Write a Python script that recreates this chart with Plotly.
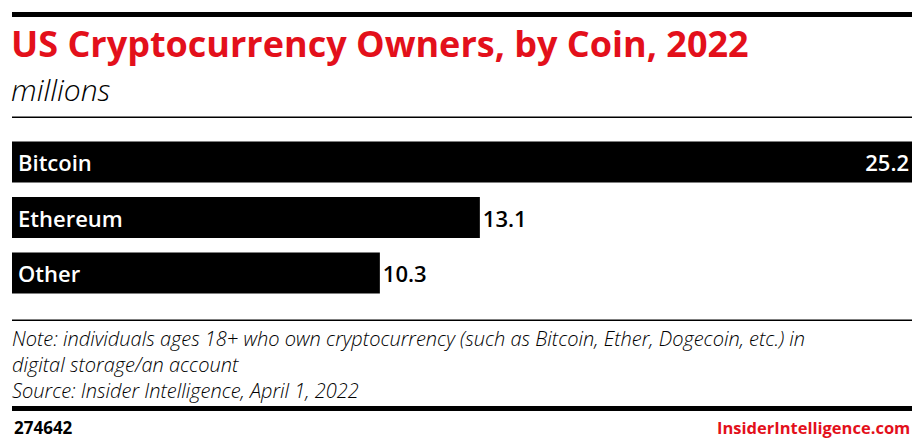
import plotly.graph_objects as go

# Chart data
coins = ["Bitcoin", "Ethereum", "Other"]
owners = [25.2, 13.1, 10.3]
value_labels = ["25.2", "13.1", "10.3"]

title = "US Cryptocurrency Owners, by Coin, 2022"
subtitle = "millions"
note_lines = [
    "Note: individuals ages 18+ who own cryptocurrency (such as Bitcoin, Ether, Dogecoin, etc.) in",
    "digital storage/an account",
    "Source: Insider Intelligence, April 1, 2022",
]
chart_id = "274642"
brand = "InsiderIntelligence.com"

W, H = 922, 447
RED = "#e3101b"
FONT = "Open Sans"


def py(px):
    # pixel from top -> paper y
    return 1 - px / H


def px_(x):
    return x / W


fig = go.Figure()

# label inside for the long bar, outside for the rest
positions = ["inside" if v > 20 else "outside" for v in owners]

fig.add_trace(go.Bar(
    y=coins, x=owners, orientation="h",
    marker=dict(color="black", line=dict(width=0)),
    width=0.74,
    text=value_labels, textposition=positions,
    insidetextanchor="end",
    insidetextfont=dict(color="white", size=22, family=FONT, weight=600),
    outsidetextfont=dict(color="black", size=22, family=FONT, weight=600),
    cliponaxis=False,
    hoverinfo="skip",
))

annotations = []
# category labels inside the bars
for c in coins:
    annotations.append(dict(
        x=0, y=c, xref="x", yref="y", text=c,
        xanchor="left", yanchor="middle", xshift=4, showarrow=False,
        font=dict(color="white", size=22, family=FONT, weight=600)))

annotations += [
    dict(x=px_(9), y=py(43), xref="paper", yref="paper", text="<b>" + title + "</b>",
         xanchor="left", yanchor="middle", showarrow=False,
         font=dict(color=RED, size=36, family=FONT)),
    dict(x=px_(9), y=py(89), xref="paper", yref="paper", text="<i>" + subtitle + "</i>",
         xanchor="left", yanchor="middle", showarrow=False,
         font=dict(color="black", size=30, family=FONT, weight=300)),
    dict(x=px_(10), y=py(323), xref="paper", yref="paper",
         text="<br>".join("<i>" + s + "</i>" for s in note_lines),
         xanchor="left", yanchor="top", align="left", showarrow=False,
         font=dict(color="black", size=20, family=FONT, weight=300)),
    dict(x=px_(12), y=py(427), xref="paper", yref="paper", text="<b>" + chart_id + "</b>",
         xanchor="left", yanchor="middle", showarrow=False,
         font=dict(color="black", size=17, family=FONT)),
    dict(x=px_(912), y=py(427), xref="paper", yref="paper", text="<b>" + brand + "</b>",
         xanchor="right", yanchor="middle", showarrow=False,
         font=dict(color=RED, size=16.5, family=FONT)),
]

shapes = [
    dict(type="rect", xref="paper", yref="paper", x0=px_(12), x1=px_(912),
         y0=py(17), y1=py(12), fillcolor="black", line=dict(width=0)),
    dict(type="rect", xref="paper", yref="paper", x0=px_(12), x1=px_(912),
         y0=py(118), y1=py(116.5), fillcolor="black", line=dict(width=0)),
    dict(type="rect", xref="paper", yref="paper", x0=px_(12), x1=px_(912),
         y0=py(321), y1=py(319.5), fillcolor="black", line=dict(width=0)),
    dict(type="rect", xref="paper", yref="paper", x0=px_(12), x1=px_(912),
         y0=py(411), y1=py(406), fillcolor="black", line=dict(width=0)),
]

fig.update_layout(
    width=W, height=H,
    margin=dict(l=0, r=0, t=0, b=0),
    paper_bgcolor="white", plot_bgcolor="white",
    showlegend=False,
    bargap=0.26,
    xaxis=dict(domain=[px_(12), px_(912)], range=[0, 25.2], visible=False, fixedrange=True),
    yaxis=dict(domain=[py(300.75), py(134.25)], autorange="reversed",
               visible=False, fixedrange=True),
    annotations=annotations,
    shapes=shapes,
)

# the page is photographed at exactly the figure size, so drop the body margin
fig.write_html("out.html", config={"displayModeBar": False},
               post_script="document.body.style.margin='0';")
